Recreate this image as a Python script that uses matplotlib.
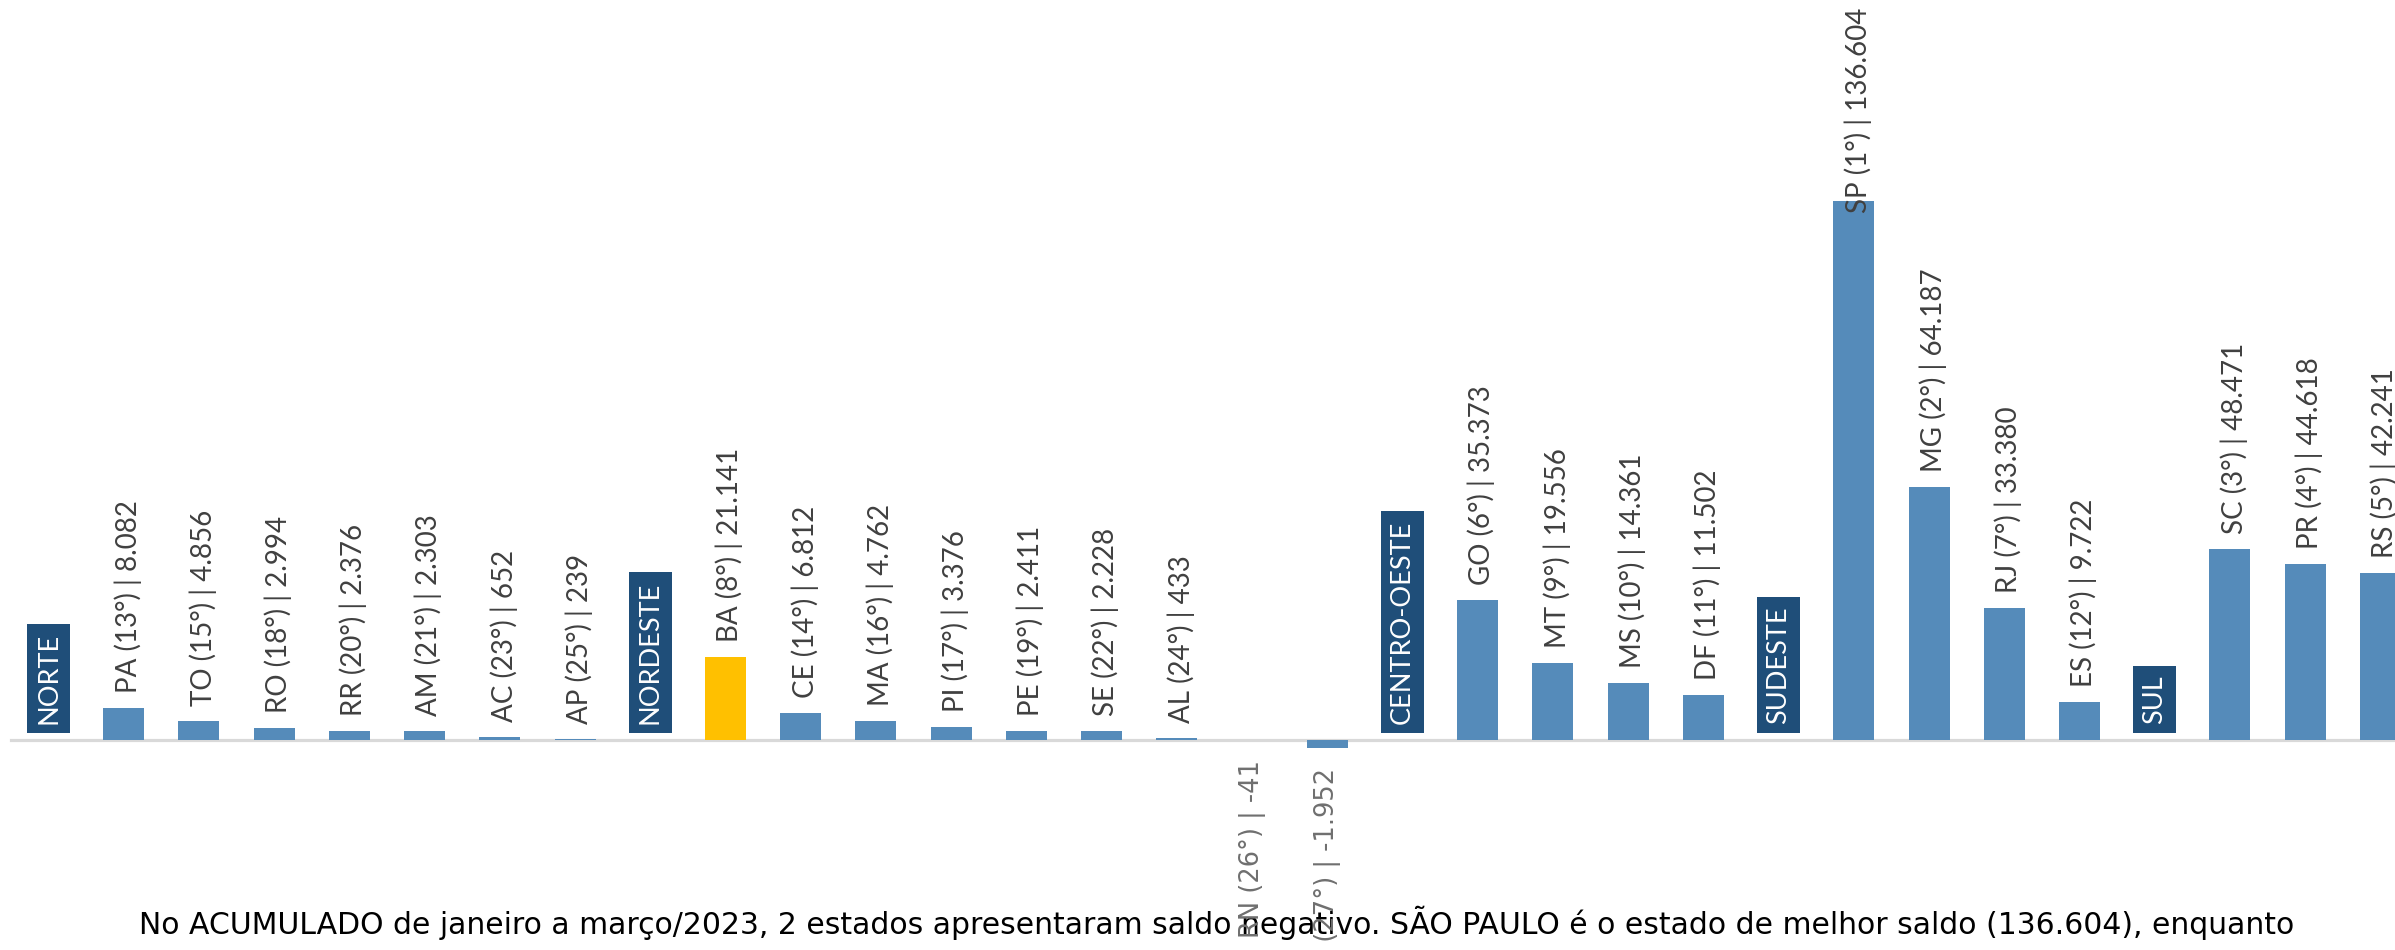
import matplotlib.pyplot as plt

# saldo acumulado jan-mar/2023 por UF, agrupado por regiao
regioes = ["NORTE", "NORDESTE", "CENTRO-OESTE", "SUDESTE", "SUL"]

ufs_norte = ["PA", "TO", "RO", "RR", "AM", "AC", "AP"]
rank_norte = [13, 15, 18, 20, 21, 23, 25]
saldo_norte = [8082, 4856, 2994, 2376, 2303, 652, 239]

ufs_nordeste = ["BA", "CE", "MA", "PI", "PE", "SE", "AL", "RN", "PB"]
rank_nordeste = [8, 14, 16, 17, 19, 22, 24, 26, 27]
saldo_nordeste = [21141, 6812, 4762, 3376, 2411, 2228, 433, -41, -1952]

ufs_co = ["GO", "MT", "MS", "DF"]
rank_co = [6, 9, 10, 11]
saldo_co = [35373, 19556, 14361, 11502]

ufs_sudeste = ["SP", "MG", "RJ", "ES"]
rank_sudeste = [1, 2, 7, 12]
saldo_sudeste = [136604, 64187, 33380, 9722]

ufs_sul = ["SC", "PR", "RS"]
rank_sul = [3, 4, 5]
saldo_sul = [48471, 44618, 42241]

destaque = "BA"

legenda = ("No ACUMULADO de janeiro a março/2023, 2 estados apresentaram saldo negativo. "
           "SÃO PAULO é o estado de melhor saldo (136.604), enquanto")

grupos = [
    (ufs_norte, rank_norte, saldo_norte),
    (ufs_nordeste, rank_nordeste, saldo_nordeste),
    (ufs_co, rank_co, saldo_co),
    (ufs_sudeste, rank_sudeste, saldo_sudeste),
    (ufs_sul, rank_sul, saldo_sul),
]

azul = "#558BBA"
amarelo = "#FFC000"
azul_escuro = "#1F4E79"
cinza_txt = "#404040"

fig = plt.figure(figsize=(23.95, 9.5), dpi=100)
ax = fig.add_axes([0, 0, 1, 1])
ax.set_xlim(-0.645, 31.195)
ax.set_ylim(-53200, 187500)
ax.axis("off")

ax.axhline(0, xmin=0.0046, xmax=1, color="#D9D9D9", lw=2.3, zorder=1)

fs = 20
maior = max(saldo_sudeste)
pos = 0
for reg, (ufs, ranks, saldos) in zip(regioes, grupos):
    # caixa com o nome da regiao
    ax.annotate(reg, (pos, 0), xytext=(0, 16), textcoords="offset pixels",
                rotation=90, ha="center", va="bottom", color="white",
                fontsize=19.5, family="Lato",
                bbox=dict(boxstyle="square,pad=0.34", fc=azul_escuro, ec="none"),
                zorder=3)
    pos += 1
    for uf, rk, v in zip(ufs, ranks, saldos):
        cor = amarelo if uf == destaque else azul
        ax.bar(pos, v, width=0.545, color=cor, zorder=2)
        txt = "{} ({}°) | {}".format(uf, rk, "{:,}".format(v).replace(",", "."))
        if v == maior:
            ax.annotate(txt, (pos, 1), xycoords=("data", "axes fraction"),
                        xytext=(4, -8), textcoords="offset pixels",
                        rotation=90, ha="center", va="top", color=cinza_txt,
                        fontsize=fs, family="Lato", zorder=4)
        elif v >= 0:
            ax.annotate(txt, (pos, v), xytext=(4, 15), textcoords="offset pixels",
                        rotation=90, ha="center", va="bottom", color=cinza_txt,
                        fontsize=fs, family="Lato", zorder=4)
        else:
            ax.annotate(txt, (pos, min(v, 0)), xytext=(0, -20), textcoords="offset pixels",
                        rotation=90, ha="center", va="top", color="#6F6F6F",
                        fontsize=18.5, family="DejaVu Sans", zorder=5)
        pos += 1

# legenda embaixo, atras dos rotulos negativos
ax.text(0.508, 0.017, legenda, transform=fig.transFigure, ha="center", va="baseline",
        fontsize=21.5, family="DejaVu Sans", color="black", zorder=0)

fig.savefig("out.png", dpi=100)
